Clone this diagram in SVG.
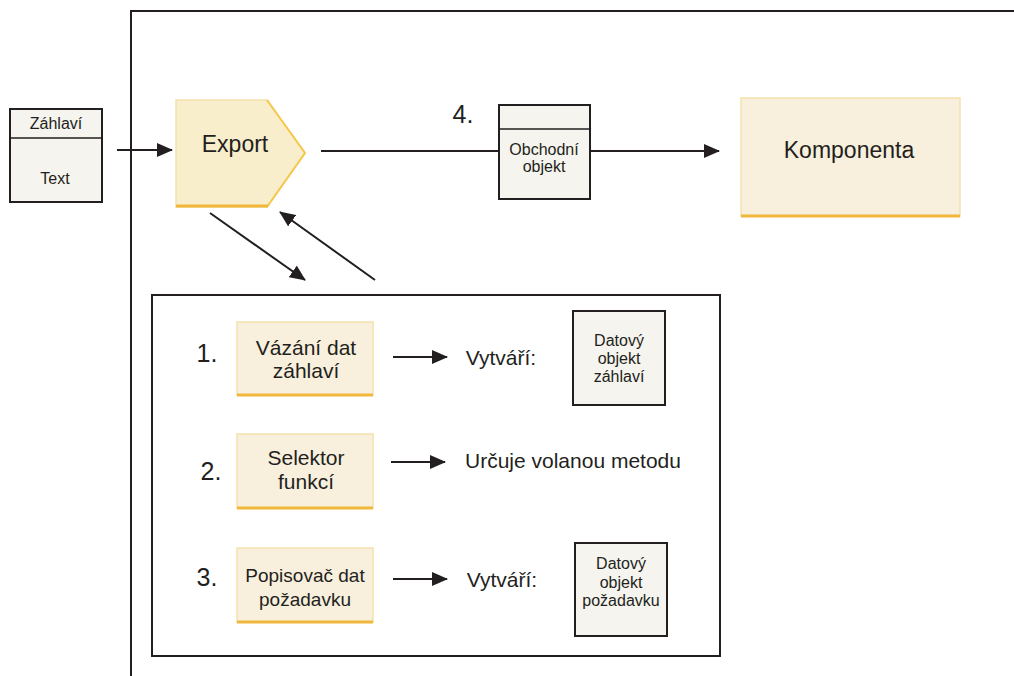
<svg xmlns="http://www.w3.org/2000/svg" width="1014" height="676" viewBox="0 0 1014 676">
<defs>
<marker id="ah2" markerWidth="16" markerHeight="14" refX="15" refY="7" orient="auto" markerUnits="userSpaceOnUse" viewBox="0 0 16 14">
<path d="M0,0 L16,7 L0,14 z" fill="#231f20"/>
</marker>
</defs>
<style>
text{font-family:"Liberation Sans",Arial,sans-serif;fill:#231f20;text-anchor:middle}
.data{fill:#f6f4ee;stroke:#231f20;stroke-width:2}
.yel{fill:#f8f0dc;stroke:#f4e2ad;stroke-width:1.5}
.bot{stroke:#f0b73a;stroke-width:3}
.conn{stroke:#231f20;stroke-width:2;fill:none}
.frame{stroke:#231f20;stroke-width:2;fill:none}
.num{font-size:25px}
.lbl{font-size:21px}
.small{font-size:16px}
</style>
<rect width="1014" height="676" fill="#fff"/>
<g id="frame">
<path class="frame" d="M131,676 V11 H1014"/>
</g>
<g id="header">
<rect class="data" x="10" y="109" width="92" height="93"/>
<line x1="10" y1="138" x2="102" y2="138" stroke="#231f20" stroke-width="1.5"/>
<text x="56" y="129" class="small">Záhlaví</text>
<text x="55" y="184" class="small">Text</text>
</g>
<g id="export">
<path d="M176,100 H267 L305,153 L267,207 H176 Z" fill="#f9eecb" stroke="#f4e2ad" stroke-width="1.5"/>
<path d="M267,100 L305,153 L267,207" fill="none" stroke="#f5c84a" stroke-width="2"/>
<line class="bot" x1="176" y1="206" x2="268" y2="206"/>
<text x="235" y="152" font-size="23">Export</text>
</g>
<g id="obchodni">
<rect class="data" x="499" y="105" width="91" height="94"/>
<line x1="499" y1="129" x2="590" y2="129" stroke="#231f20" stroke-width="1.5"/>
<text x="544" y="155" class="small">Obchodní</text>
<text x="544" y="172" class="small">objekt</text>
</g>
<text x="463" y="123" class="num">4.</text>
<g id="komponenta">
<rect class="yel" x="741" y="98" width="219" height="118"/>
<line class="bot" x1="741" y1="216" x2="960" y2="216"/>
<text x="849" y="158" font-size="23">Komponenta</text>
</g>
<g id="panel">
<rect x="152" y="295" width="568" height="361" fill="none" stroke="#231f20" stroke-width="2"/>
</g>
<g id="row1">
<text x="207" y="362" class="num">1.</text>
<rect class="yel" x="237" y="322" width="136" height="73"/>
<line class="bot" x1="237" y1="395" x2="373" y2="395"/>
<text x="306" y="355" class="lbl">Vázání dat</text>
<text x="306" y="378" class="lbl">záhlaví</text>
<text x="501" y="365" class="lbl">Vytváří:</text>
<rect class="data" x="573" y="311" width="92" height="94"/>
<text x="619" y="346" class="small">Datový</text>
<text x="619" y="364" class="small">objekt</text>
<text x="619" y="382" class="small">záhlaví</text>
</g>
<g id="row2">
<text x="211" y="480" class="num">2.</text>
<rect class="yel" x="237" y="434" width="136" height="74"/>
<line class="bot" x1="237" y1="508" x2="373" y2="508"/>
<text x="306" y="465" class="lbl">Selektor</text>
<text x="306" y="489" class="lbl">funkcí</text>
<text x="465" y="468" class="lbl" style="text-anchor:start">Určuje volanou metodu</text>
</g>
<g id="row3">
<text x="207" y="586" class="num">3.</text>
<rect class="yel" x="237" y="548" width="136" height="74"/>
<line class="bot" x1="237" y1="622" x2="373" y2="622"/>
<text x="305" y="582" font-size="19">Popisovač dat</text>
<text x="305" y="606" font-size="19">požadavku</text>
<text x="502" y="587" class="lbl">Vytváří:</text>
<rect class="data" x="575" y="543" width="92" height="93"/>
<text x="621" y="569" class="small">Datový</text>
<text x="621" y="588" class="small">objekt</text>
<text x="621" y="606" class="small">požadavku</text>
</g>
<g id="connectors">
<line class="conn" x1="117" y1="150" x2="172" y2="150" marker-end="url(#ah2)"/>
<line class="conn" x1="321" y1="151" x2="499" y2="151"/>
<line class="conn" x1="590" y1="151" x2="719" y2="151" marker-end="url(#ah2)"/>
<line class="conn" x1="210" y1="213" x2="305" y2="280" marker-end="url(#ah2)"/>
<line class="conn" x1="375" y1="280" x2="280" y2="212" marker-end="url(#ah2)"/>
<line class="conn" x1="393" y1="357" x2="447" y2="357" marker-end="url(#ah2)"/>
<line class="conn" x1="391" y1="462" x2="445" y2="462" marker-end="url(#ah2)"/>
<line class="conn" x1="393" y1="579" x2="447" y2="579" marker-end="url(#ah2)"/>
</g>
</svg>
